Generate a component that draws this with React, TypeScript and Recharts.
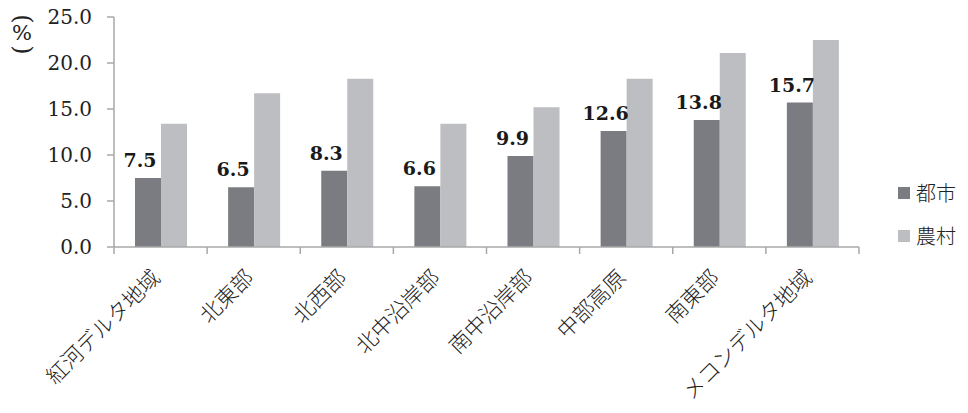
import { BarChart, Bar, XAxis, YAxis, Legend, LabelList } from "recharts";

// Poverty rate by region, urban vs rural (%)
const regions = [
  "紅河デルタ地域",
  "北東部",
  "北西部",
  "北中沿岸部",
  "南中沿岸部",
  "中部高原",
  "南東部",
  "メコンデルタ地域",
];
const urban = [7.5, 6.5, 8.3, 6.6, 9.9, 12.6, 13.8, 15.7];
const rural = [13.4, 16.7, 18.3, 13.4, 15.2, 18.3, 21.1, 22.5];
const yTicks = [0, 5, 10, 15, 20, 25];
const seriesNames = { urban: "都市", rural: "農村" };

const COLORS = { urban: "#7b7c81", rural: "#bdbec2", axis: "#a8a8a8" };
const SERIF = "'DejaVu Serif', 'Liberation Serif', serif";
const CJK = "'Noto Sans CJK JP', sans-serif";

const data = regions.map((r, i) => ({ region: r, urban: urban[i], rural: rural[i] }));

function XTick(props: any) {
  const { x, y, payload, index } = props;
  const off = payload.offset ?? 0;
  const last = index === regions.length - 1;
  return (
    <g>
      <line x1={x - off} x2={x - off} y1={y} y2={y + 7} stroke={COLORS.axis} strokeWidth={1.5} />
      {last && <line x1={x + off} x2={x + off} y1={y} y2={y + 7} stroke={COLORS.axis} strokeWidth={1.5} />}
      <text
        x={x + 1}
        y={y + 32}
        transform={`rotate(-45, ${x + 1}, ${y + 32})`}
        textAnchor="end"
        fontFamily={CJK}
        fontSize={21.5}
        fontWeight={300}
        fill="#222"
      >
        {payload.value}
      </text>
    </g>
  );
}

function UrbanLabel(props: any) {
  const { x, y, width, value } = props;
  return (
    <text
      x={x + width / 2 - 8}
      y={y - 11}
      textAnchor="middle"
      fontFamily={SERIF}
      fontWeight="bold"
      fontSize={19}
      fill="#1a1a1a"
    >
      {Number(value).toFixed(1)}
    </text>
  );
}

function LegendBox() {
  const items = [
    { name: seriesNames.urban, color: COLORS.urban },
    { name: seriesNames.rural, color: COLORS.rural },
  ];
  return (
    <div>
      {items.map((d) => (
        <div key={d.name} style={{ display: "flex", alignItems: "center", height: 43 }}>
          <span style={{ width: 12, height: 12, background: d.color, marginRight: 6 }} />
          <span style={{ fontFamily: CJK, fontSize: 20, fontWeight: 300, color: "#222" }}>{d.name}</span>
        </div>
      ))}
    </div>
  );
}

// "(%)" written vertically: parentheses turned on their side, % upright
function UnitLabel() {
  return (
    <svg width={50} height={70} style={{ position: "absolute", left: 0, top: 0 }}>
      <g fontFamily={SERIF} fill="#222" textAnchor="middle">
        <g transform="translate(22 19) rotate(90)">
          <text x={0} y={0} dy="0.3em" fontSize={24}>(</text>
        </g>
        <text x={22} y={40} fontSize={21}>%</text>
        <g transform="translate(22 50) rotate(90)">
          <text x={0} y={0} dy="0.3em" fontSize={24}>)</text>
        </g>
      </g>
    </svg>
  );
}

export default function App() {
  return (
    <div style={{ position: "absolute", left: 0, top: 0, width: 968, height: 413, background: "#fff" }}>
      <BarChart
        width={968}
        height={413}
        data={data}
        margin={{ top: 17, right: 109, bottom: 0, left: 0 }}
        barGap={0}
        barSize={26}
      >
        <XAxis
          dataKey="region"
          height={166}
          interval={0}
          tickLine={false}
          tickSize={0}
          tickMargin={0}
          axisLine={{ stroke: COLORS.axis, strokeWidth: 1.5 }}
          tick={<XTick />}
        />
        <YAxis
          width={114}
          domain={[0, 25]}
          ticks={yTicks}
          interval={0}
          tickSize={7}
          tickMargin={15}
          tickFormatter={(v: number) => v.toFixed(1)}
          axisLine={{ stroke: COLORS.axis, strokeWidth: 1.5 }}
          tickLine={{ stroke: COLORS.axis, strokeWidth: 1.5 }}
          tick={{ fontFamily: SERIF, fontSize: 20, fill: "#222" }}
        />
        <Bar dataKey="urban" name={seriesNames.urban} fill={COLORS.urban} isAnimationActive={false}>
          <LabelList dataKey="urban" content={<UrbanLabel />} />
        </Bar>
        <Bar dataKey="rural" name={seriesNames.rural} fill={COLORS.rural} isAnimationActive={false} />
        <Legend
          content={<LegendBox />}
          layout="vertical"
          align="center"
          verticalAlign="middle"
          wrapperStyle={{ left: 898, top: 171, width: 70 }}
        />
      </BarChart>
      <UnitLabel />
    </div>
  );
}
